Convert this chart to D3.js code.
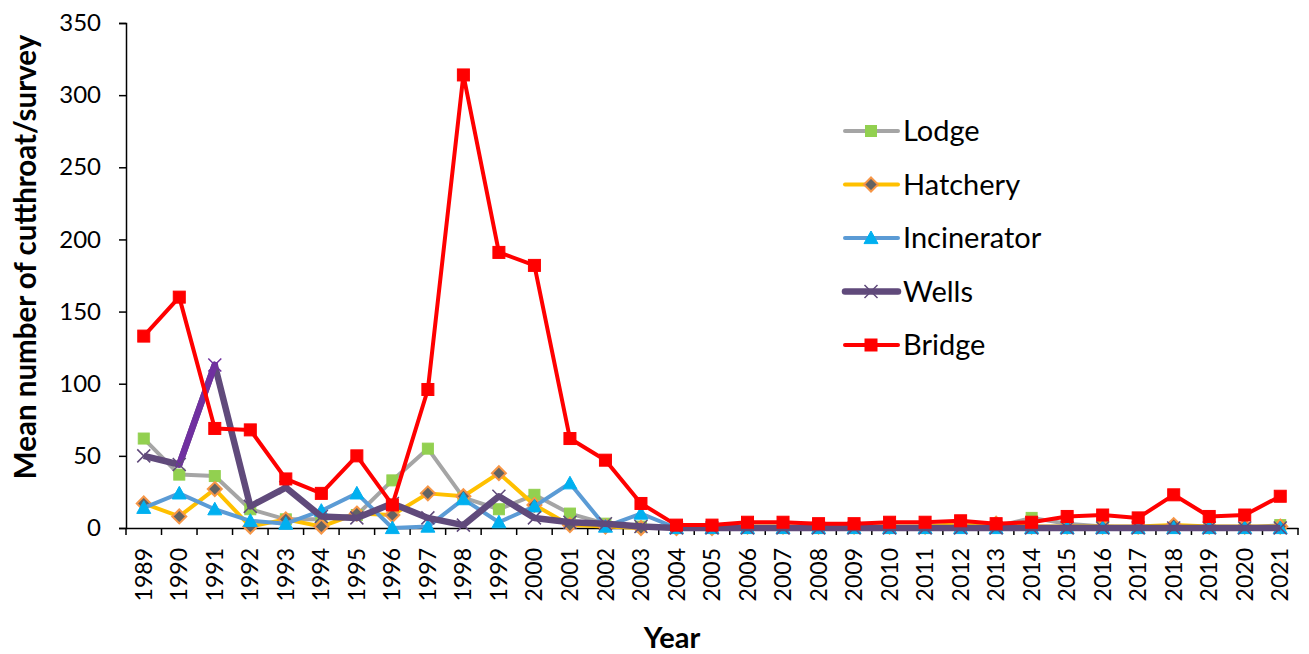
<!DOCTYPE html>
<html>
<head>
<meta charset="utf-8">
<script src="https://cdn.jsdelivr.net/npm/d3@7"></script>
<style>
  body { margin: 0; background: #fff; }
  text { font-family: Lato, "Open Sans", sans-serif; fill: #000; }
</style>
</head>
<body>
<div id="chart"></div>
<script>
/* chart values */
var years = ["1989","1990","1991","1992","1993","1994","1995","1996","1997","1998","1999",
             "2000","2001","2002","2003","2004","2005","2006","2007","2008","2009","2010",
             "2011","2012","2013","2014","2015","2016","2017","2018","2019","2020","2021"];

var lodge = [62, 37, 36, 13, 6, 6, 9, 33, 55, 21, 13, 23, 10, 3, 1, 0, 0, 0, 0, 0, 0, 0,
             0, 1, 1, 7, 3, 1, 0, 0, 0, 0, 2];
var hatchery = [17, 8, 27, 1, 6, 1, 10, 9, 24, 22, 38, 16, 2, 1, 0, 0, 0, 1, 1, 1, 1, 1,
                1, 3, 3, 1, 1, 1, 1, 2, 1, 1, 1];
var incinerator = [14, 24, 13, 5, 3, 12, 24, 0, 1, 20, 4, 15, 31, 1, 10, 0, 0, 0, 0, 0, 0, 0,
                   0, 0, 0, 0, 0, 0, 0, 0, 0, 0, 0];
var wells = [50, 44, 113, 15, 28, 8, 7, 17, 7, 2, 22, 7, 4, 3, 1, 0, 0, 0, 0, 0, 0, 0,
             0, 0, 0, 0, 0, 0, 0, 0, 0, 0, 0];
var bridge = [133, 160, 69, 68, 34, 24, 50, 16, 96, 314, 191, 182, 62, 47, 17, 2, 2, 4, 4, 3, 3, 4,
              4, 5, 3, 4, 8, 9, 7, 23, 8, 9, 22];

var yTicks = [0, 50, 100, 150, 200, 250, 300, 350];

var series = [
  { name: "Lodge", values: lodge, line: "#A5A5A5", width: 4, marker: "square", fill: "#92D050", stroke: "#92D050", size: 11 },
  { name: "Hatchery", values: hatchery, line: "#FFC000", width: 4, marker: "diamond", fill: "#636363", stroke: "#F79646", size: 14 },
  { name: "Incinerator", values: incinerator, line: "#5B9BD5", width: 4, marker: "triangle", fill: "#00B0F0", stroke: "#00B0F0", size: 14 },
  { name: "Wells", values: wells, line: "#604A7B", width: 6.5, marker: "x", fill: "none", stroke: "#604A7B", size: 13 },
  { name: "Bridge", values: bridge, line: "#FF0000", width: 4, marker: "square", fill: "#FF0000", stroke: "#FF0000", size: 12 }
];

var W = 1309, H = 654;
var plotL = 126, plotR = 1298, plotT = 23, plotB = 528;

var svg = d3.select("#chart").append("svg")
  .attr("width", W).attr("height", H);

var x = d3.scaleBand().domain(years).range([plotL, plotR]);
var y = d3.scaleLinear().domain([0, 350]).range([plotB, plotT]);

function cx(i) { return x(years[i]) + x.bandwidth() / 2; }

/* axes */
var yAxis = svg.append("g")
  .attr("transform", "translate(" + plotL + ",0)")
  .call(d3.axisLeft(y).tickValues(yTicks).tickSize(7).tickPadding(18));
yAxis.selectAll("text").style("font-size", "24px");

var xAxis = svg.append("g")
  .attr("transform", "translate(0," + plotB + ")")
  .call(d3.axisBottom(x).tickSize(0));
xAxis.selectAll("text")
  .style("font-size", "23px")
  .attr("text-anchor", "end")
  .attr("x", 0).attr("y", 0)
  .attr("dx", 0).attr("dy", "0.35em")
  .attr("transform", "translate(0,20) rotate(-90)");

/* category boundary ticks */
xAxis.selectAll("line.bound")
  .data(d3.range(years.length + 1))
  .enter().append("line")
  .attr("class", "bound")
  .attr("x1", function (i) { return plotL + i * x.step(); })
  .attr("x2", function (i) { return plotL + i * x.step(); })
  .attr("y1", 0).attr("y2", 7)
  .attr("stroke", "#000");

svg.selectAll(".domain").attr("stroke", "#000").attr("stroke-width", 1.5);
svg.selectAll(".tick line").attr("stroke", "#000").attr("stroke-width", 1.5);
xAxis.selectAll("line.bound").attr("stroke-width", 1.5);

/* axis titles */
svg.append("text")
  .attr("x", 672).attr("y", 648)
  .attr("text-anchor", "middle")
  .style("font-size", "29px").style("font-weight", "bold")
  .text("Year");

svg.append("text")
  .attr("transform", "translate(36,257) rotate(-90)")
  .attr("text-anchor", "middle")
  .style("font-size", "29.5px").style("font-weight", "bold")
  .text("Mean number of cutthroat/survey");

/* markers */
function drawMarker(g, s, px, py) {
  var h = s.size / 2;
  if (s.marker === "square") {
    g.append("rect").attr("x", px - h).attr("y", py - h)
      .attr("width", s.size).attr("height", s.size)
      .attr("fill", s.fill).attr("stroke", s.stroke).attr("stroke-width", 1);
  } else if (s.marker === "diamond") {
    g.append("path")
      .attr("d", "M" + px + "," + (py - h) + "L" + (px + h) + "," + py + "L" + px + "," + (py + h) + "L" + (px - h) + "," + py + "Z")
      .attr("fill", s.fill).attr("stroke", s.stroke).attr("stroke-width", 2);
  } else if (s.marker === "triangle") {
    g.append("path")
      .attr("d", "M" + px + "," + (py - h) + "L" + (px + h) + "," + (py + h * 0.8) + "L" + (px - h) + "," + (py + h * 0.8) + "Z")
      .attr("fill", s.fill).attr("stroke", s.stroke).attr("stroke-width", 1);
  } else if (s.marker === "x") {
    g.append("path")
      .attr("d", "M" + (px - h) + "," + (py - h) + "L" + (px + h) + "," + (py + h) + "M" + (px + h) + "," + (py - h) + "L" + (px - h) + "," + (py + h))
      .attr("stroke", s.stroke).attr("stroke-width", 1.5).attr("fill", "none");
  }
}

var line = d3.line()
  .x(function (d, i) { return cx(i); })
  .y(function (d) { return y(d); });

series.forEach(function (s) {
  var g = svg.append("g").attr("class", "series");
  g.append("path")
    .datum(s.values)
    .attr("d", line)
    .attr("fill", "none")
    .attr("stroke", s.line)
    .attr("stroke-width", s.width)
    .attr("stroke-linejoin", "round");
  if (s.name === "Wells") {
    /* the 1990-1991 segment is drawn in a brighter purple */
    g.append("line")
      .attr("x1", cx(1)).attr("y1", y(s.values[1]))
      .attr("x2", cx(2)).attr("y2", y(s.values[2]))
      .attr("stroke", "#7030A0").attr("stroke-width", s.width)
      .attr("stroke-linecap", "round");
  }
  s.values.forEach(function (v, i) {
    var ms = s;
    if (s.name === "Wells" && i === 2) ms = Object.assign({}, s, { stroke: "#7030A0" });
    drawMarker(g, ms, cx(i), y(v));
  });
});

/* legend */
var legend = svg.append("g").attr("class", "legend");
series.forEach(function (s, i) {
  var ly = 131 + i * 53.5;
  legend.append("line")
    .attr("x1", 845).attr("x2", 898).attr("y1", ly).attr("y2", ly)
    .attr("stroke", s.line).attr("stroke-width", s.width)
    .attr("stroke-linecap", "round");
  drawMarker(legend, s, 871, ly);
  legend.append("text")
    .attr("x", 903).attr("y", ly)
    .attr("dy", "0.35em")
    .style("font-size", "29px")
    .text(s.name);
});
</script>
</body>
</html>
